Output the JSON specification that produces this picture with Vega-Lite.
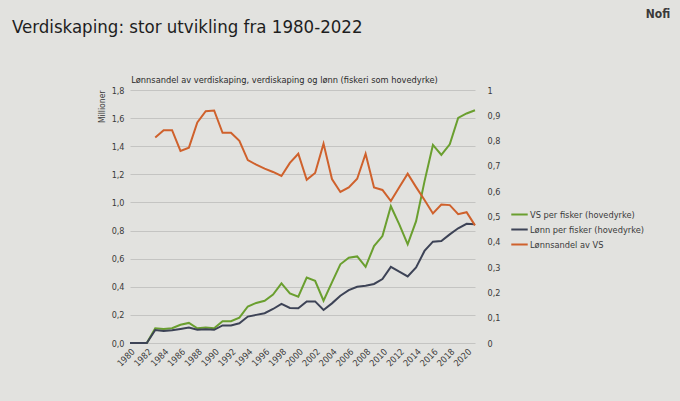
{
  "$schema": "https://vega.github.io/schema/vega-lite/v6.json",
  "background": "#e2e2df",
  "autosize": "none",
  "width": 345,
  "height": 253,
  "padding": {"left": 130, "top": 90, "right": 205, "bottom": 58},
  "title": {
    "text": "Verdiskaping: stor utvikling fra 1980-2022",
    "anchor": "start",
    "frame": "group",
    "font": "Liberation Sans Narrow, DejaVu Sans Condensed, sans-serif",
    "fontSize": 18.5,
    "fontWeight": "normal",
    "color": "#1e1e1e",
    "dx": -118,
    "offset": -28
  },
  "data": {
    "values": [
      {"aar": 1980, "serie": "VS per fisker (hovedyrke)", "verdi": 0},
      {"aar": 1981, "serie": "VS per fisker (hovedyrke)", "verdi": 0},
      {"aar": 1982, "serie": "VS per fisker (hovedyrke)", "verdi": 0},
      {"aar": 1983, "serie": "VS per fisker (hovedyrke)", "verdi": 0.105},
      {"aar": 1984, "serie": "VS per fisker (hovedyrke)", "verdi": 0.099},
      {"aar": 1985, "serie": "VS per fisker (hovedyrke)", "verdi": 0.105},
      {"aar": 1986, "serie": "VS per fisker (hovedyrke)", "verdi": 0.13},
      {"aar": 1987, "serie": "VS per fisker (hovedyrke)", "verdi": 0.143},
      {"aar": 1988, "serie": "VS per fisker (hovedyrke)", "verdi": 0.105},
      {"aar": 1989, "serie": "VS per fisker (hovedyrke)", "verdi": 0.11},
      {"aar": 1990, "serie": "VS per fisker (hovedyrke)", "verdi": 0.105},
      {"aar": 1991, "serie": "VS per fisker (hovedyrke)", "verdi": 0.155},
      {"aar": 1992, "serie": "VS per fisker (hovedyrke)", "verdi": 0.155},
      {"aar": 1993, "serie": "VS per fisker (hovedyrke)", "verdi": 0.18},
      {"aar": 1994, "serie": "VS per fisker (hovedyrke)", "verdi": 0.26},
      {"aar": 1995, "serie": "VS per fisker (hovedyrke)", "verdi": 0.285},
      {"aar": 1996, "serie": "VS per fisker (hovedyrke)", "verdi": 0.3},
      {"aar": 1997, "serie": "VS per fisker (hovedyrke)", "verdi": 0.344},
      {"aar": 1998, "serie": "VS per fisker (hovedyrke)", "verdi": 0.424},
      {"aar": 1999, "serie": "VS per fisker (hovedyrke)", "verdi": 0.353},
      {"aar": 2000, "serie": "VS per fisker (hovedyrke)", "verdi": 0.329},
      {"aar": 2001, "serie": "VS per fisker (hovedyrke)", "verdi": 0.466},
      {"aar": 2002, "serie": "VS per fisker (hovedyrke)", "verdi": 0.442},
      {"aar": 2003, "serie": "VS per fisker (hovedyrke)", "verdi": 0.301},
      {"aar": 2004, "serie": "VS per fisker (hovedyrke)", "verdi": 0.431},
      {"aar": 2005, "serie": "VS per fisker (hovedyrke)", "verdi": 0.56},
      {"aar": 2006, "serie": "VS per fisker (hovedyrke)", "verdi": 0.607},
      {"aar": 2007, "serie": "VS per fisker (hovedyrke)", "verdi": 0.616},
      {"aar": 2008, "serie": "VS per fisker (hovedyrke)", "verdi": 0.542},
      {"aar": 2009, "serie": "VS per fisker (hovedyrke)", "verdi": 0.69},
      {"aar": 2010, "serie": "VS per fisker (hovedyrke)", "verdi": 0.761},
      {"aar": 2011, "serie": "VS per fisker (hovedyrke)", "verdi": 0.973},
      {"aar": 2012, "serie": "VS per fisker (hovedyrke)", "verdi": 0.844},
      {"aar": 2013, "serie": "VS per fisker (hovedyrke)", "verdi": 0.702},
      {"aar": 2014, "serie": "VS per fisker (hovedyrke)", "verdi": 0.867},
      {"aar": 2015, "serie": "VS per fisker (hovedyrke)", "verdi": 1.15},
      {"aar": 2016, "serie": "VS per fisker (hovedyrke)", "verdi": 1.409},
      {"aar": 2017, "serie": "VS per fisker (hovedyrke)", "verdi": 1.338},
      {"aar": 2018, "serie": "VS per fisker (hovedyrke)", "verdi": 1.413},
      {"aar": 2019, "serie": "VS per fisker (hovedyrke)", "verdi": 1.602},
      {"aar": 2020, "serie": "VS per fisker (hovedyrke)", "verdi": 1.633},
      {"aar": 2021, "serie": "VS per fisker (hovedyrke)", "verdi": 1.656},
      {"aar": 1980, "serie": "Lønn per fisker (hovedyrke)", "verdi": 0},
      {"aar": 1981, "serie": "Lønn per fisker (hovedyrke)", "verdi": 0},
      {"aar": 1982, "serie": "Lønn per fisker (hovedyrke)", "verdi": 0},
      {"aar": 1983, "serie": "Lønn per fisker (hovedyrke)", "verdi": 0.092},
      {"aar": 1984, "serie": "Lønn per fisker (hovedyrke)", "verdi": 0.085},
      {"aar": 1985, "serie": "Lønn per fisker (hovedyrke)", "verdi": 0.09},
      {"aar": 1986, "serie": "Lønn per fisker (hovedyrke)", "verdi": 0.1},
      {"aar": 1987, "serie": "Lønn per fisker (hovedyrke)", "verdi": 0.11},
      {"aar": 1988, "serie": "Lønn per fisker (hovedyrke)", "verdi": 0.094},
      {"aar": 1989, "serie": "Lønn per fisker (hovedyrke)", "verdi": 0.097},
      {"aar": 1990, "serie": "Lønn per fisker (hovedyrke)", "verdi": 0.094},
      {"aar": 1991, "serie": "Lønn per fisker (hovedyrke)", "verdi": 0.125},
      {"aar": 1992, "serie": "Lønn per fisker (hovedyrke)", "verdi": 0.125},
      {"aar": 1993, "serie": "Lønn per fisker (hovedyrke)", "verdi": 0.14},
      {"aar": 1994, "serie": "Lønn per fisker (hovedyrke)", "verdi": 0.188},
      {"aar": 1995, "serie": "Lønn per fisker (hovedyrke)", "verdi": 0.2},
      {"aar": 1996, "serie": "Lønn per fisker (hovedyrke)", "verdi": 0.212},
      {"aar": 1997, "serie": "Lønn per fisker (hovedyrke)", "verdi": 0.242},
      {"aar": 1998, "serie": "Lønn per fisker (hovedyrke)", "verdi": 0.278},
      {"aar": 1999, "serie": "Lønn per fisker (hovedyrke)", "verdi": 0.249},
      {"aar": 2000, "serie": "Lønn per fisker (hovedyrke)", "verdi": 0.247},
      {"aar": 2001, "serie": "Lønn per fisker (hovedyrke)", "verdi": 0.296},
      {"aar": 2002, "serie": "Lønn per fisker (hovedyrke)", "verdi": 0.296},
      {"aar": 2003, "serie": "Lønn per fisker (hovedyrke)", "verdi": 0.235},
      {"aar": 2004, "serie": "Lønn per fisker (hovedyrke)", "verdi": 0.282},
      {"aar": 2005, "serie": "Lønn per fisker (hovedyrke)", "verdi": 0.336},
      {"aar": 2006, "serie": "Lønn per fisker (hovedyrke)", "verdi": 0.376},
      {"aar": 2007, "serie": "Lønn per fisker (hovedyrke)", "verdi": 0.4},
      {"aar": 2008, "serie": "Lønn per fisker (hovedyrke)", "verdi": 0.407},
      {"aar": 2009, "serie": "Lønn per fisker (hovedyrke)", "verdi": 0.42},
      {"aar": 2010, "serie": "Lønn per fisker (hovedyrke)", "verdi": 0.455},
      {"aar": 2011, "serie": "Lønn per fisker (hovedyrke)", "verdi": 0.542},
      {"aar": 2012, "serie": "Lønn per fisker (hovedyrke)", "verdi": 0.507},
      {"aar": 2013, "serie": "Lønn per fisker (hovedyrke)", "verdi": 0.474},
      {"aar": 2014, "serie": "Lønn per fisker (hovedyrke)", "verdi": 0.537},
      {"aar": 2015, "serie": "Lønn per fisker (hovedyrke)", "verdi": 0.655},
      {"aar": 2016, "serie": "Lønn per fisker (hovedyrke)", "verdi": 0.721},
      {"aar": 2017, "serie": "Lønn per fisker (hovedyrke)", "verdi": 0.726},
      {"aar": 2018, "serie": "Lønn per fisker (hovedyrke)", "verdi": 0.773},
      {"aar": 2019, "serie": "Lønn per fisker (hovedyrke)", "verdi": 0.816},
      {"aar": 2020, "serie": "Lønn per fisker (hovedyrke)", "verdi": 0.848},
      {"aar": 2021, "serie": "Lønn per fisker (hovedyrke)", "verdi": 0.844},
      {"aar": 1983, "serie": "Lønnsandel av VS", "verdi": 0.812},
      {"aar": 1984, "serie": "Lønnsandel av VS", "verdi": 0.841},
      {"aar": 1985, "serie": "Lønnsandel av VS", "verdi": 0.841},
      {"aar": 1986, "serie": "Lønnsandel av VS", "verdi": 0.759},
      {"aar": 1987, "serie": "Lønnsandel av VS", "verdi": 0.772},
      {"aar": 1988, "serie": "Lønnsandel av VS", "verdi": 0.872},
      {"aar": 1989, "serie": "Lønnsandel av VS", "verdi": 0.916},
      {"aar": 1990, "serie": "Lønnsandel av VS", "verdi": 0.919},
      {"aar": 1991, "serie": "Lønnsandel av VS", "verdi": 0.831},
      {"aar": 1992, "serie": "Lønnsandel av VS", "verdi": 0.831},
      {"aar": 1993, "serie": "Lønnsandel av VS", "verdi": 0.799},
      {"aar": 1994, "serie": "Lønnsandel av VS", "verdi": 0.723},
      {"aar": 1995, "serie": "Lønnsandel av VS", "verdi": 0.705},
      {"aar": 1996, "serie": "Lønnsandel av VS", "verdi": 0.689},
      {"aar": 1997, "serie": "Lønnsandel av VS", "verdi": 0.676},
      {"aar": 1998, "serie": "Lønnsandel av VS", "verdi": 0.66},
      {"aar": 1999, "serie": "Lønnsandel av VS", "verdi": 0.712},
      {"aar": 2000, "serie": "Lønnsandel av VS", "verdi": 0.748},
      {"aar": 2001, "serie": "Lønnsandel av VS", "verdi": 0.645},
      {"aar": 2002, "serie": "Lønnsandel av VS", "verdi": 0.672},
      {"aar": 2003, "serie": "Lønnsandel av VS", "verdi": 0.788},
      {"aar": 2004, "serie": "Lønnsandel av VS", "verdi": 0.648},
      {"aar": 2005, "serie": "Lønnsandel av VS", "verdi": 0.597},
      {"aar": 2006, "serie": "Lønnsandel av VS", "verdi": 0.615},
      {"aar": 2007, "serie": "Lønnsandel av VS", "verdi": 0.649},
      {"aar": 2008, "serie": "Lønnsandel av VS", "verdi": 0.748},
      {"aar": 2009, "serie": "Lønnsandel av VS", "verdi": 0.615},
      {"aar": 2010, "serie": "Lønnsandel av VS", "verdi": 0.605},
      {"aar": 2011, "serie": "Lønnsandel av VS", "verdi": 0.561},
      {"aar": 2012, "serie": "Lønnsandel av VS", "verdi": 0.616},
      {"aar": 2013, "serie": "Lønnsandel av VS", "verdi": 0.669},
      {"aar": 2014, "serie": "Lønnsandel av VS", "verdi": 0.616},
      {"aar": 2015, "serie": "Lønnsandel av VS", "verdi": 0.565},
      {"aar": 2016, "serie": "Lønnsandel av VS", "verdi": 0.512},
      {"aar": 2017, "serie": "Lønnsandel av VS", "verdi": 0.547},
      {"aar": 2018, "serie": "Lønnsandel av VS", "verdi": 0.545},
      {"aar": 2019, "serie": "Lønnsandel av VS", "verdi": 0.509},
      {"aar": 2020, "serie": "Lønnsandel av VS", "verdi": 0.517},
      {"aar": 2021, "serie": "Lønnsandel av VS", "verdi": 0.465}
    ]
  },
  "encoding": {
    "color": {
      "field": "serie",
      "type": "nominal",
      "scale": {
        "domain": ["VS per fisker (hovedyrke)", "Lønn per fisker (hovedyrke)", "Lønnsandel av VS"],
        "range": ["#6a9f2f", "#3d4356", "#cf612c"]
      },
      "legend": {
        "title": null,
        "orient": "none",
        "legendX": 380,
        "legendY": 115,
        "symbolType": "stroke",
        "symbolSize": 270,
        "symbolStrokeWidth": 2,
        "labelFontSize": 9.2,
        "rowPadding": 0,
        "labelOffset": 1
      }
    }
  },
  "layer": [
    {
      "transform": [{"filter": "datum.serie != 'Lønnsandel av VS'"}],
      "mark": {"type": "line", "strokeWidth": 2},
      "encoding": {
        "x": {
          "field": "aar",
          "type": "quantitative",
          "scale": {"domain": [1980, 2021], "nice": false, "zero": false},
          "axis": {
            "title": null,
            "values": [1980, 1982, 1984, 1986, 1988, 1990, 1992, 1994, 1996, 1998, 2000, 2002, 2004, 2006, 2008, 2010, 2012, 2014, 2016, 2018, 2020],
            "format": "d",
            "labelAngle": -45,
            "labelFontSize": 9,
            "labelPadding": 4,
            "labelOverlap": false,
            "ticks": false,
            "domain": false,
            "grid": false
          }
        },
        "y": {
          "field": "verdi",
          "type": "quantitative",
          "scale": {"domain": [0, 1.8], "nice": false},
          "axis": {
            "title": "Millioner",
            "titleAnchor": "end",
            "titleFontSize": 8.5,
            "titleFontWeight": "normal",
            "titlePadding": 5,
            "values": [0, 0.2, 0.4, 0.6, 0.8, 1, 1.2, 1.4, 1.6, 1.8],
            "labelExpr": "replace(format(datum.value, '.1f'), '.', ',')",
            "labelFontSize": 9,
            "labelPadding": 6,
            "ticks": false,
            "domain": false,
            "grid": true,
            "gridColor": "#c4c4c2",
            "gridWidth": 1
          }
        }
      }
    },
    {
      "transform": [{"filter": "datum.serie == 'Lønnsandel av VS'"}],
      "mark": {"type": "line", "strokeWidth": 2},
      "encoding": {
        "x": {
          "field": "aar",
          "type": "quantitative",
          "axis": {
            "orient": "top",
            "title": "Lønnsandel av verdiskaping, verdiskaping og lønn (fiskeri som hovedyrke)",
            "titleFontSize": 9.2,
            "titleFontWeight": "normal",
            "titleColor": "#2a2a2a",
            "titleX": 154,
            "titleAlign": "center",
            "titlePadding": 6,
            "labels": false,
            "ticks": false,
            "domain": false,
            "grid": false
          }
        },
        "y": {
          "field": "verdi",
          "type": "quantitative",
          "scale": {"domain": [0, 1], "nice": false},
          "axis": {
            "orient": "right",
            "title": null,
            "values": [0, 0.1, 0.2, 0.3, 0.4, 0.5, 0.6, 0.7, 0.8, 0.9, 1],
            "labelExpr": "replace(format(datum.value, '.1~f'), '.', ',')",
            "labelFontSize": 9,
            "labelPadding": 12,
            "ticks": false,
            "domain": false,
            "grid": false
          }
        }
      }
    },
    {
      "data": {"values": [{"aar": 2041.3, "verdi": 2.34, "tekst": "Nofi"}]},
      "mark": {"type": "text", "align": "left", "baseline": "middle", "fontSize": 12, "fontWeight": "bold", "color": "#3a3a3a"},
      "encoding": {
        "x": {"field": "aar", "type": "quantitative", "axis": null},
        "y": {"field": "verdi", "type": "quantitative", "scale": {"domain": [0, 1.8], "nice": false}, "axis": null},
        "text": {"field": "tekst"},
        "color": {"value": "#3a3a3a"}
      }
    }
  ],
  "resolve": {"scale": {"y": "independent"}, "axis": {"x": "independent"}},
  "config": {
    "view": {"stroke": null},
    "font": "Liberation Sans Narrow, DejaVu Sans Condensed, sans-serif",
    "axis": {"labelColor": "#3a3a3a", "titleColor": "#3a3a3a", "labelFont": "Liberation Sans Narrow, DejaVu Sans Condensed, sans-serif", "titleFont": "Liberation Sans Narrow, DejaVu Sans Condensed, sans-serif"},
    "legend": {"labelColor": "#3a3a3a", "labelFont": "Liberation Sans Narrow, DejaVu Sans Condensed, sans-serif"}
  }
}
